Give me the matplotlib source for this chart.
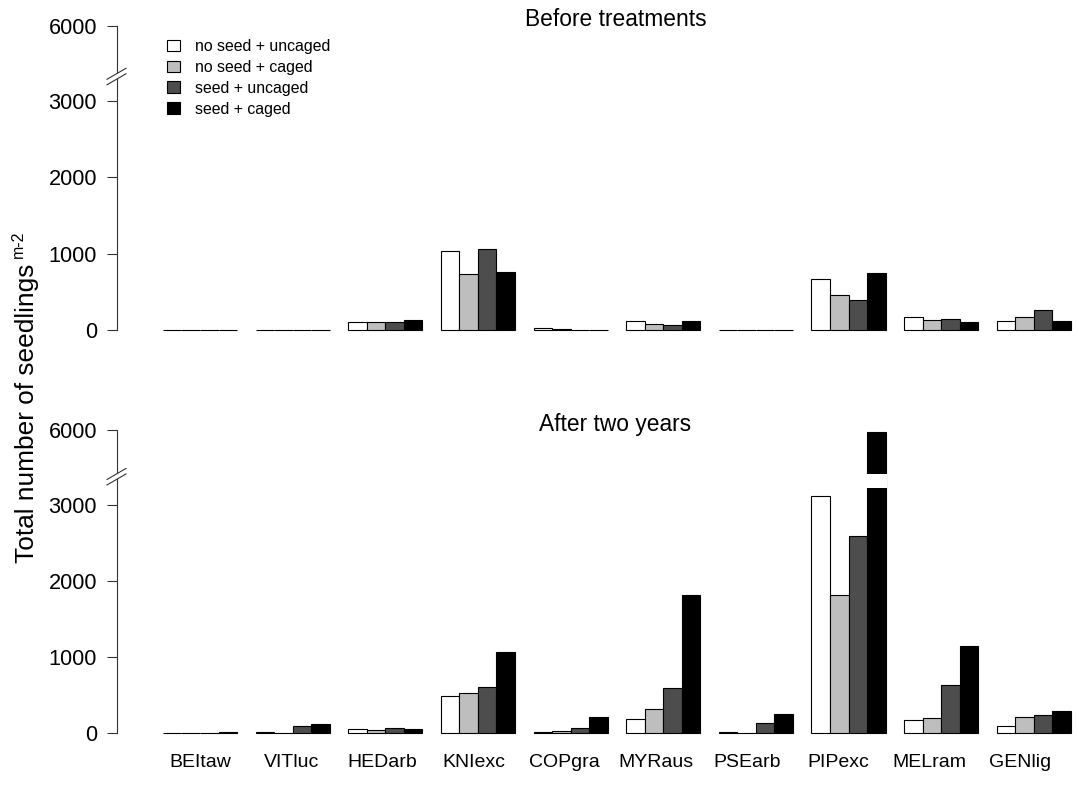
import numpy as np
import matplotlib
matplotlib.use("Agg")
import matplotlib.pyplot as plt
from matplotlib.patches import Patch, Rectangle, Polygon
from matplotlib.lines import Line2D
from matplotlib.transforms import blended_transform_factory

plt.rcParams['font.family'] = ['Liberation Sans', 'DejaVu Sans']

# ---- data -------------------------------------------------------------
species = ["BEItaw", "VITluc", "HEDarb", "KNIexc", "COPgra",
           "MYRaus", "PSEarb", "PIPexc", "MELram", "GENlig"]
treatments = ["no seed + uncaged", "no seed + caged",
              "seed + uncaged", "seed + caged"]

before_noseed_uncaged = [0, 0, 100, 1040, 25, 120, 0, 670, 165, 120]
before_noseed_caged   = [0, 0, 100, 740, 12, 85, 0, 460, 130, 165]
before_seed_uncaged   = [0, 0, 100, 1060, 0, 65, 0, 395, 140, 260]
before_seed_caged     = [0, 0, 125, 755, 0, 120, 0, 750, 110, 120]

after_noseed_uncaged = [0, 10, 50, 480, 10, 178, 12, 3115, 176, 97]
after_noseed_caged   = [0, 0, 40, 532, 22, 316, 0, 1812, 203, 216]
after_seed_uncaged   = [0, 97, 62, 605, 62, 595, 137, 2589, 637, 237]
after_seed_caged     = [15, 115, 50, 1066, 216, 1812, 255, 5980, 1150, 290]

before = [before_noseed_uncaged, before_noseed_caged,
          before_seed_uncaged, before_seed_caged]
after = [after_noseed_uncaged, after_noseed_caged,
         after_seed_uncaged, after_seed_caged]

yticks = [0, 1000, 2000, 3000, 6000]
fills = ["white", "#BEBEBE", "#4D4D4D", "black"]

# ---- broken y scale: values between GAP_LO and GAP_HI squeezed ---------
GAP_LO, GAP_HI, GAP_W = 3216.0, 5424.0, 192.0


def fwd(v):
    v = np.asarray(v, dtype=float)
    mid = GAP_LO + (v - GAP_LO) * GAP_W / (GAP_HI - GAP_LO)
    hi = v - (GAP_HI - GAP_LO) + GAP_W
    return np.where(v <= GAP_LO, v, np.where(v >= GAP_HI, hi, mid))


def inv(p):
    p = np.asarray(p, dtype=float)
    mid = GAP_LO + (p - GAP_LO) * (GAP_HI - GAP_LO) / GAP_W
    hi = p + (GAP_HI - GAP_LO) - GAP_W
    return np.where(p <= GAP_LO, p, np.where(p >= GAP_LO + GAP_W, hi, mid))


W, H = 1077, 785
fig = plt.figure(figsize=(W / 100, H / 100), dpi=100)


def fx(x):
    return x / W


def fy(y):
    return 1 - y / H


def make_axes(top_px, bottom_px):
    return fig.add_axes([fx(117), fy(bottom_px), fx(1077) - fx(117),
                         fy(top_px) - fy(bottom_px)])


ax_top = make_axes(26, 330)
ax_bot = make_axes(430, 733)

n_sp = len(species)
group_left = 1 + 5 * np.arange(n_sp)
label_pos = 3 + 4.92 * np.arange(n_sp)

for ax, series in ((ax_top, before), (ax_bot, after)):
    ax.set_yscale("function", functions=(fwd, inv))
    for j, vals in enumerate(series):
        ax.bar(group_left + j, vals, width=1.0, align="edge",
               color=fills[j], edgecolor="black", linewidth=0.8,
               clip_on=False, zorder=2)
        # blank out the squeezed part of bars that cross the gap
        for i, v in enumerate(vals):
            if v > GAP_LO:
                ax.add_patch(Rectangle((group_left[i] + j - 0.1, GAP_LO), 1.2,
                                       GAP_HI - GAP_LO, facecolor="white",
                                       edgecolor="none", zorder=3))
    ax.set_ylim(0, 6000)
    ax.set_xlim(-1.48, 50.33)
    for s in ax.spines.values():
        s.set_visible(False)
    ax.set_yticks(yticks)
    ax.set_yticklabels([str(t) for t in yticks])
    ax.tick_params(axis="y", length=7.2, width=0.8, pad=7.2,
                   labelsize=15.7, color="#333333")
    # left axis line from 0 to the top tick
    tr = blended_transform_factory(ax.transAxes, ax.transData)
    ax.add_line(Line2D([0, 0], [0, 6000], transform=tr, color="#333333",
                       linewidth=0.8, clip_on=False))

ax_top.set_xticks([])
ax_bot.set_xticks(label_pos)
ax_bot.set_xticklabels(species)
ax_bot.tick_params(axis="x", length=0, pad=15, labelsize=14)

# axis break marks
for yc in (76.4, 476.6):
    x0, x1 = 107, 126
    dy = 5.5 * 0.5
    slope = -0.58

    def yy(x, off):
        return yc + off + slope * (x - 116.7)
    fig.patches.append(Polygon([(fx(x0), fy(yy(x0, -dy))), (fx(x1), fy(yy(x1, -dy))),
                                (fx(x1), fy(yy(x1, dy))), (fx(x0), fy(yy(x0, dy)))],
                               closed=True, transform=fig.transFigure,
                               facecolor="white", edgecolor="none", zorder=5))
    for off in (-dy, dy):
        fig.lines.append(Line2D([fx(x0), fx(x1)], [fy(yy(x0, off)), fy(yy(x1, off))],
                                transform=fig.transFigure, color="#333333",
                                linewidth=0.8, zorder=6))

# panel titles
fig.text(fx(616), fy(20), "Before treatments", ha="center", va="center",
         fontsize=16.4)
fig.text(fx(615), fy(424), "After two years", ha="center", va="center",
         fontsize=16.4)

# y label with its unit superscript
fig.text(fx(27), fy(413), "Total number of seedlings",
         rotation=90, ha="center", va="center", fontsize=18.9)
fig.text(fx(18), fy(244), "m-2",
         rotation=90, ha="center", va="center", fontsize=11.5)

# legend
handles = [Patch(facecolor=c, edgecolor="black", linewidth=0.8) for c in fills]
ax_top.legend(handles, treatments, loc="upper left",
              bbox_to_anchor=(fx(167), fy(39)), bbox_transform=fig.transFigure,
              frameon=False, fontsize=11.4, handlelength=0.85,
              handleheight=0.75, handletextpad=0.9, labelspacing=0.37,
              borderpad=0, borderaxespad=0)

fig.savefig("out.png", dpi=100)
